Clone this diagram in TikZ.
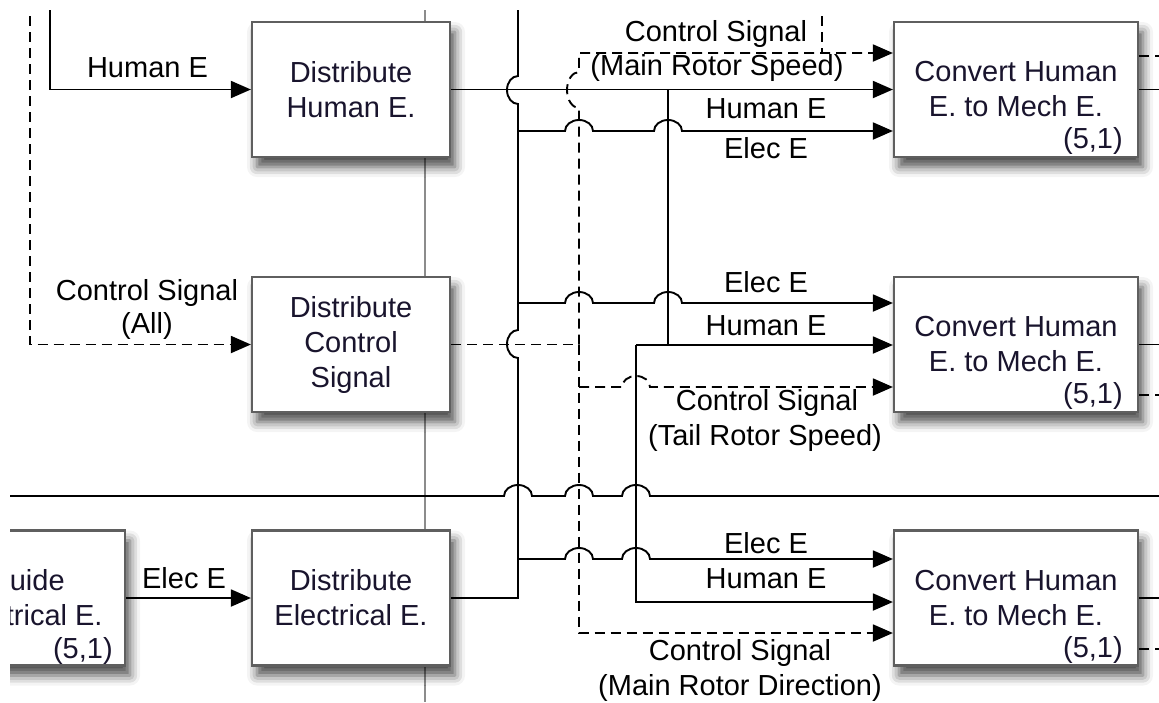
\documentclass[tikz,border=0pt]{standalone}
\usepackage{fontspec}
\setmainfont{Liberation Sans}
\usetikzlibrary{arrows.meta,shadows.blur,calc}
\newcommand\dfont{\fontsize{14.5pt}{17.5pt}\selectfont}
\definecolor{boxtext}{RGB}{25,20,45}
\definecolor{boxline}{RGB}{95,95,95}
\definecolor{bgline}{RGB}{140,140,140}
\tikzset{
  dbox/.style={draw=boxline, line width=1.1pt, fill=white,
    blur shadow={shadow xshift=2.5pt, shadow yshift=-5pt, shadow blur radius=5pt, shadow opacity=70},
    minimum width=99pt, minimum height=67.5pt, inner sep=0pt, align=center,
    font=\dfont, text=boxtext},
  cbox/.style={dbox, minimum width=122pt},
  wire/.style={line width=0.95pt, black},
  dwire/.style={wire, dash pattern=on 5pt off 3pt},
  gline/.style={line width=0.6pt, bgline},
  arr/.style={-{Triangle[length=10pt,width=8.5pt]}},
  lab/.style={font=\dfont, anchor=base, inner sep=0pt},
  idx/.style={font=\dfont, anchor=base east, inner sep=0pt, text=boxtext}
}
\begin{document}
\begin{tikzpicture}[x=0.5pt,y=0.5pt]
\useasboundingbox (0,0) rectangle (1159,-702);
\begin{scope}
\clip (10,-10) rectangle (1159,-702);
% background gray line
\draw[gline] (425,0) -- (425,-702);

% boxes
\node[dbox] (dhe) at (351,-89.5) {Distribute\\Human E.};
\node[dbox] (dcs) at (351,-344.5) {Distribute\\Control\\Signal};
\node[dbox] (dee) at (351,-598) {Distribute\\Electrical E.};
\node[dbox] (gee) at (26,-598) {Guide\\Electrical E.};
\node[cbox] (che1) at (1016,-89.5) {Convert Human\\E. to Mech E.};
\node[cbox] (che2) at (1016,-344.5) {Convert Human\\E. to Mech E.};
\node[cbox] (che3) at (1016,-598) {Convert Human\\E. to Mech E.};
\node[idx] at ($(che1.north east)+(-16,-128)$) {(5,1)};
\node[idx] at ($(che2.north east)+(-16,-128)$) {(5,1)};
\node[idx] at ($(che3.north east)+(-16,-128)$) {(5,1)};
\node[idx] at ($(gee.north east)+(-13,-129)$) {(5,1)};

% right stubs
\draw[dwire] ($(che1.east)+(0,33.5)$) -- ++(21,0);
\draw[wire] (che1.east) -- ++(21,0);
\draw[wire] (che2.east) -- ++(21,0);
\draw[dwire] ($(che2.east)+(0,-50.5)$) -- ++(21,0);
\draw[wire] (che3.east) -- ++(21,0);
\draw[dwire] ($(che3.east)+(0,-51)$) -- ++(21,0);

% left inputs
\draw[wire,arr] (50,0) |- (dhe.west);
\draw[dwire,arr] (30,0) |- (dcs.west);
\draw[wire,arr] (gee.east) -- (dee.west);

% long horizontal line
\draw[wire] (0,-496) -- (504,-496) arc[start angle=180,end angle=0,x radius=7pt,y radius=5.5pt]
  -- (565,-496) arc[start angle=180,end angle=0,x radius=7pt,y radius=5.5pt]
  -- (622,-496) arc[start angle=180,end angle=0,x radius=7pt,y radius=5.5pt]
  -- (1159,-496);

% electrical bus
\coordinate (e1) at (518,-131);
\coordinate (e2) at (518,-303);
\coordinate (e3) at (518,-559);
\coordinate (eb) at (518,-598);
\draw[wire] (dee.east) -- (eb) -- (518,-358)
  arc[start angle=270,end angle=90,x radius=5.5pt,y radius=7pt]
  -- (518,-104) arc[start angle=270,end angle=90,x radius=5.5pt,y radius=7pt]
  -- (518,0);
\draw[wire,arr] (e1) -- (565,-131) arc[start angle=180,end angle=0,x radius=7pt,y radius=5.5pt]
  -- (654,-131) arc[start angle=180,end angle=0,x radius=7pt,y radius=5.5pt]
  -- (che1.west |- e1);
\draw[wire,arr] (e2) -- (565,-303) arc[start angle=180,end angle=0,x radius=7pt,y radius=5.5pt]
  -- (654,-303) arc[start angle=180,end angle=0,x radius=7pt,y radius=5.5pt]
  -- (che2.west |- e2);
\draw[wire,arr] (e3) -- (565,-559) arc[start angle=180,end angle=0,x radius=7pt,y radius=5.5pt]
  -- (622,-559) arc[start angle=180,end angle=0,x radius=7pt,y radius=5.5pt]
  -- (che3.west |- e3);

% human energy
\coordinate (h1) at (668,-89.5);
\coordinate (h2) at (668,-345);
\coordinate (h3) at (636,-345);
\coordinate (h4) at (636,-602);
\draw[wire,arr] (dhe.east) -- (che1.west);
\draw[wire] (h1) -- (h2);
\draw[wire,arr] (h3) -- (che2.west |- h3);
\draw[wire,arr] (h3) -- (h4) -- (che3.west |- h4);

% control signals
\coordinate (s0) at (579,-53);
\coordinate (s1) at (579,-344.5);
\coordinate (s2) at (579,-387);
\coordinate (s3) at (579,-633);
\coordinate (s4) at (822,-53);
\draw[dwire] (dcs.east) -- (s1);
\draw[dwire,arr] (s1) -- (579,-108) arc[start angle=270,end angle=90,x radius=6pt,y radius=9pt]
  -- (s0) -- (che1.west |- s0);
\draw[dwire,arr] (s1) -- (s3) -- (che3.west |- s3);
\draw[dwire,arr] (s2) -- (622,-387) arc[start angle=180,end angle=0,x radius=7pt,y radius=5.5pt]
  -- (che2.west |- s2);
\draw[dwire] (822,0) -- (s4);

% labels
\node[lab] at (147.5,-77) {Human E};
\node[lab] at (147,-300) {Control Signal};
\node[lab] at (147,-333) {(All)};
\node[lab] at (716,-41) {Control Signal};
\node[lab] at (717,-75) {(Main Rotor Speed)};
\node[lab] at (766,-118) {Human E};
\node[lab] at (766,-158) {Elec E};
\node[lab] at (766,-292) {Elec E};
\node[lab] at (766,-335) {Human E};
\node[lab] at (767,-410) {Control Signal};
\node[lab] at (765,-445) {(Tail Rotor Speed)};
\node[lab] at (766,-553) {Elec E};
\node[lab] at (766,-588) {Human E};
\node[lab] at (740,-660) {Control Signal};
\node[lab] at (740,-695) {(Main Rotor Direction)};
\node[lab] at (184,-588) {Elec E};
\end{scope}
\end{tikzpicture}
\end{document}
